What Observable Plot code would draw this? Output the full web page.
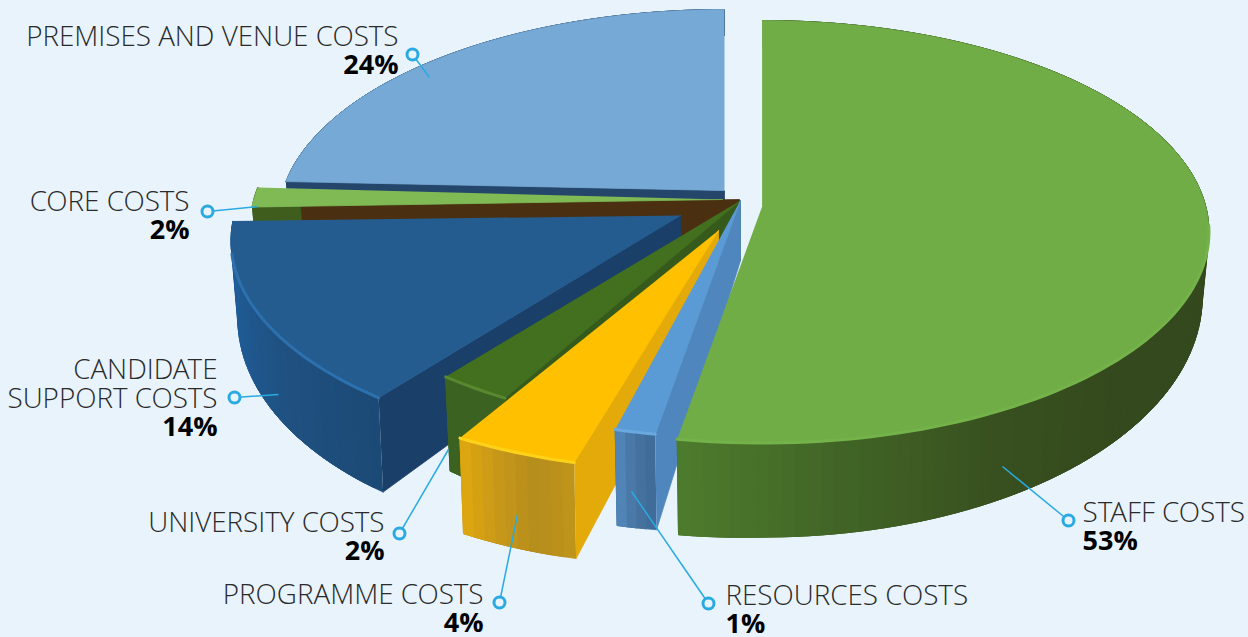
<!DOCTYPE html>
<html><head><meta charset="utf-8">
<script src="https://cdn.jsdelivr.net/npm/d3@7"></script>
<script src="https://cdn.jsdelivr.net/npm/@observablehq/plot@0.6"></script>
<style>html,body{margin:0;padding:0;background:#e8f3fc;width:1248px;height:637px;overflow:hidden}svg{display:block}</style>
</head><body><div id="chart"></div>
<script>
// DATA (clockwise from 12 o'clock)
const categories = ["STAFF COSTS","RESOURCES COSTS","PROGRAMME COSTS","UNIVERSITY COSTS","CANDIDATE\nSUPPORT COSTS","CORE COSTS","PREMISES AND VENUE COSTS"];
const shares = [52.7, 1.3, 4, 2.4, 14.1, 1.5, 24];

// LAYOUT / STYLE
const W = 1248, H = 637;
const R = 443, Rv = 208, persp = 0.1245, wallShrink = 0.985;
const centers = [[762,205],[740,200],[699,233],[744,193],[677,214],[696,200],[724,194]];
const tips    = [[762,205],[740,200],[718,230],[740,200],[680,215],[722,199],[724,190]];
const cutTips = [[762,205],[740,200],[718,230],[740,200],[680,215],[739,199],[724,190]];
const topFill = ["#70ad47","#5b9bd5","#ffc000","#43701f","#255c90","#7fba55","#76a9d6"];
const bevel   = ["#74b24a","#6aa8e0","#ffd21a","#58882f","#2c70ad","#8cc460","#76a9d6"];
const cutFill = [["#3c5c20"],["#4f86bd"],["#e4aa0a"],["#365a1c"],["#1a3f68"],["#3f5e1e","#4a3010"],["#24466b"]];
const cutSplit= [1,1,1,1,1,0.1,1];
const dark = "#34491d";
const wallStops = [
  [dark,dark,dark,dark,dark,dark,dark,dark,"#38501f","#416426","#4e7c2d"],
  ["#3c6a97","#4873a0","#5389bd"],
  ["#c0951a","#b58d1c","#c8981a","#dfa80e"],
  ["#3c6222","#3c6222"],
  ["#1c4a76","#1f507f","#1f5a92","#1f5f99"],
  ["#3f5e1e","#3f5e1e"],
  ["#24466b","#24466b"]
];
const rad = d => d * Math.PI / 180;
function project(c, aDeg) {
  const a = rad(aDeg), X = Math.sin(a), Y = -Math.cos(a), s = 1 / (1 - persp * Y);
  return {x: c[0] + R * s * X, y: c[1] + Rv * s * Y, X, Y, cx: c[0]};
}
const wallH = p => 60 + 34 * p.Y + 12 * Math.max(0, -p.X);
const foot = p => ({x: p.cx + (p.x - p.cx) * wallShrink, y: p.y + wallH(p)});

// Build polygons from shares
const total = d3.sum(shares);
const polys = [], arcs = [];
let id = 0, cum = 0;
const slices = shares.map((v, i) => { const a0 = cum / total * 360; cum += v; return {i, a0, a1: cum / total * 360}; });
function push(pts, color) { id++; for (const p of pts) polys.push({x: p.x, y: p.y, id, color}); }
// back to front: premises, core, candidate, university, programme, resources, staff
[6,5,4,3,2,1,0].forEach(k => {
  const {i, a0, a1} = slices[k], c = centers[i], t = {x: tips[i][0], y: tips[i][1]}, ct = {x: cutTips[i][0], y: cutTips[i][1]};
  const n = Math.max(4, Math.ceil((a1 - a0) / 1.5));
  const angles = d3.range(n + 1).map(j => a0 + (a1 - a0) * j / n);
  const rim = angles.map(a => project(c, a));
  const inter = d3.piecewise(d3.interpolateRgb, wallStops[i]);
  // outer wall as overlapping shaded strips, so that no seams show
  for (let j = 0; j < n; j++) {
    const mid = rim.slice(j, Math.min(j + 3, n) + 1);
    push([...mid, ...mid.map(foot).reverse()], inter((j + 0.5) / n));
  }
  // visible cut face at the start angle
  if (i !== 0) {
    const p = rim[0], f0 = foot(p), hT = 60;
    const lerp = (a, b, f) => ({x: a.x + (b.x - a.x) * f, y: a.y + (b.y - a.y) * f});
    const tb = {x: ct.x, y: ct.y + hT};
    const cols = cutFill[i], sp = cutSplit[i];
    if (cols.length > 1) {
      const m = lerp(p, ct, sp), mb = lerp(f0, tb, sp);
      push([p, m, mb, f0], cols[0]);
      push([m, ct, tb, mb], cols[1]);
    } else {
      push([p, ct, tb, f0], cols[0]);
    }
  }
  // top
  push([t, ...rim], topFill[i]);
  // bevel along the rim, front part only
  rim.filter((p, j) => angles[j] > 95 && angles[j] < 260).forEach(p => arcs.push({x: p.x, y: p.y, id: "a" + i, color: bevel[i]}));
});

// Annotations
const pct = shares.map(v => Math.round(v) + "%");
const labelAnchor = ["start","start","end","end","end","end","end"];
const labelX = [1082,725,483,384,217,189,398];
const labelY = [526,609,608,536,412,215,50];
const ringX = [1068,708,499,399,234,207,412];
const ringY = [520,603,602,533,397,211,54];
const endX = [1002,631,517,448,278,257,429];
const endY = [466,491,514,449,394,206,77];
const rows = categories.map((name, i) => ({name, pct: pct[i], anchor: labelAnchor[i], lx: labelX[i], ly: labelY[i], rx: ringX[i], ry: ringY[i], ex: endX[i], ey: endY[i]}));
const font = "'Open Sans Light', 'Open Sans', sans-serif";
const textMarks = a => {
  const d = rows.filter(r => r.anchor === a);
  return [
    Plot.text(d, {x: "lx", y: "ly", dy: -5, text: "name", textAnchor: a, lineAnchor: "bottom", lineHeight: 1.04, fontSize: 27.8, fontWeight: 300, fontFamily: font, fill: "#2a2a2a"}),
    Plot.text(d, {x: "lx", y: "ly", dy: 4.5, text: "pct", textAnchor: a, lineAnchor: "top", fontSize: 27, fontWeight: 700, fontFamily: "'Open Sans', sans-serif", fill: "#000000"})
  ];
};

const chart = Plot.plot({
  width: W, height: H, margin: 0,
  x: {domain: [0, W], range: [0, W], axis: null},
  y: {domain: [0, H], range: [0, H], axis: null},
  color: {type: "identity"},
  style: {background: "transparent"},
  marks: [
    Plot.line(polys, {x: "x", y: "y", z: "id", fill: "color", stroke: "color", strokeWidth: 0.8}),
    Plot.line(arcs, {x: "x", y: "y", z: "id", stroke: "color", strokeWidth: 3}),
    Plot.link(rows, {x1: "ex", y1: "ey", x2: "rx", y2: "ry", stroke: "#29abe2", strokeWidth: 1.5}),
    Plot.dot(rows, {x: "rx", y: "ry", r: 5.5, stroke: "#29abe2", strokeWidth: 3, fill: "#e8f3fc"}),
    ...textMarks("start"), ...textMarks("end")
  ]
});
document.getElementById("chart").appendChild(chart);
</script></body></html>
